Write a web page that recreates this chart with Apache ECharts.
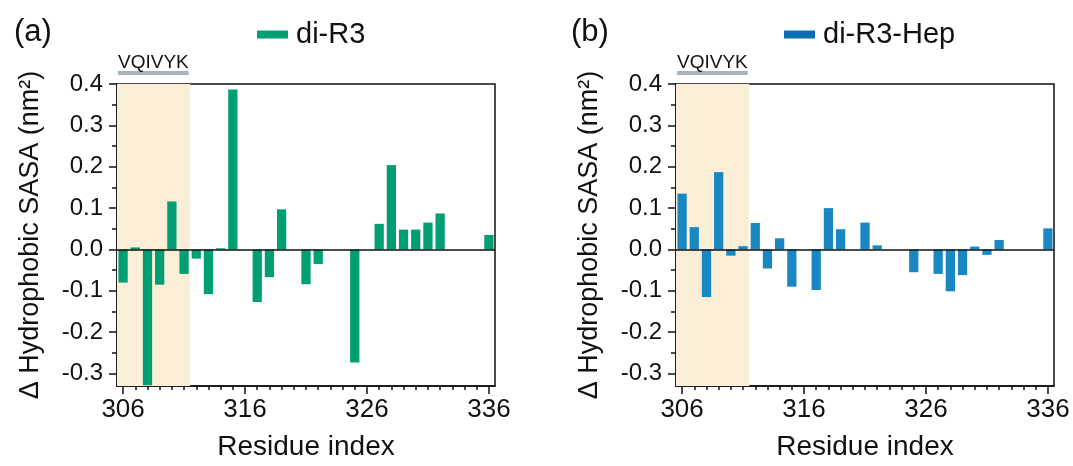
<!DOCTYPE html>
<html>
<head>
<meta charset="utf-8">
<script src="https://cdn.jsdelivr.net/npm/echarts@6/dist/echarts.min.js"></script>
<style>
  html, body { margin: 0; padding: 0; background: #ffffff; }
  #chart { width: 1073px; height: 466px; }
</style>
</head>
<body>
<div id="chart"></div>
<script>
// Residue positions along the repeat (x categories)
const residues = [306, 307, 308, 309, 310, 311, 312, 313, 314, 315,
                  316, 317, 318, 319, 320, 321, 322, 323, 324, 325,
                  326, 327, 328, 329, 330, 331, 332, 333, 334, 335, 336];

// Change in hydrophobic SASA (nm^2) per residue; null = no bar
const diR3 = [-0.080, 0.005, -0.328, -0.085, 0.116, -0.059, -0.022, -0.108, 0.003, 0.387,
              null, -0.127, -0.067, 0.097, null, -0.084, -0.035, null, null, -0.273,
              null, 0.062, 0.204, 0.048, 0.048, 0.065, 0.087, null, null, null, 0.035];

const diR3Hep = [0.135, 0.054, -0.115, 0.187, -0.015, 0.008, 0.064, -0.046, 0.027, -0.090,
                 null, -0.098, 0.100, 0.049, null, 0.065, 0.010, null, null, -0.055,
                 null, -0.059, -0.101, -0.062, 0.007, -0.013, 0.023, null, null, null, 0.051];

// Axis ticks
const yTicks = [-0.3, -0.2, -0.1, 0.0, 0.1, 0.2, 0.3, 0.4];
const yMinorTicks = [-0.25, -0.15, -0.05, 0.05, 0.15, 0.25, 0.35];
const xTicks = [306, 316, 326, 336];
const xMinorTicks = residues.filter(r => !xTicks.includes(r));
const yRange = [-0.33, 0.4];

// Hexapeptide motif highlighted in both panels
const motifName = 'VQIVYK';
const motifResidues = [306, 311];

const FONT = '"Liberation Sans", Arial, sans-serif';
const INK = '#111111';

const panels = [
  { tag: '(a)', name: 'di-R3',     values: diR3,    color: '#009E73', legendColor: '#009E73', left: 117, legendLeft: 252, tagLeft: 9 },
  { tag: '(b)', name: 'di-R3-Hep', values: diR3Hep, color: '#1B87C2', legendColor: '#0B6FB3', left: 676, legendLeft: 779, tagLeft: 566 }
];

const GRID_TOP = 84, GRID_W = 378, GRID_H = 303;
const xMin = residues[0] - 0.5, xMax = residues[residues.length - 1] + 0.5;

const chart = echarts.init(document.getElementById('chart'), null, { renderer: 'canvas' });

const option = {
  animation: false,
  backgroundColor: '#ffffff',
  textStyle: { fontFamily: FONT, color: INK },
  title: panels.map(p => ({
    text: p.tag, left: p.tagLeft, top: 12,
    textStyle: { fontFamily: FONT, fontSize: 31, fontWeight: 'normal', color: INK }
  })),
  legend: panels.map(p => ({
    data: [{ name: p.name, itemStyle: { color: p.legendColor } }],
    left: p.legendLeft, top: 15,
    icon: 'rect', itemWidth: 31, itemHeight: 8,
    textStyle: { fontFamily: FONT, fontSize: 29, color: INK, padding: [0, 0, 0, 3] },
    selectedMode: false
  })),
  grid: panels.map(p => ({
    left: p.left, top: GRID_TOP, width: GRID_W, height: GRID_H,
    show: true, borderColor: INK, borderWidth: 1.5, backgroundColor: 'transparent'
  })),
  xAxis: [],
  yAxis: [],
  series: []
};

panels.forEach((p, i) => {
  // main x axis: labelled major ticks every 10 residues
  option.xAxis.push({
    type: 'value', gridIndex: i, min: xMin, max: xMax, position: 'bottom',
    name: 'Residue index', nameLocation: 'middle', nameGap: 47,
    nameTextStyle: { fontFamily: FONT, fontSize: 28, color: INK },
    axisLine: { show: true, onZero: false, lineStyle: { color: INK, width: 1.5 } },
    axisTick: { show: true, length: 8, customValues: xTicks, lineStyle: { color: INK, width: 1.5 } },
    axisLabel: { show: true, customValues: xTicks, fontFamily: FONT, fontSize: 26, color: INK, margin: 11 },
    splitLine: { show: false }
  });
  // minor x ticks every residue
  option.xAxis.push({
    type: 'value', gridIndex: i, min: xMin, max: xMax, position: 'bottom',
    axisLine: { show: false, onZero: false },
    axisTick: { show: true, length: 4, customValues: xMinorTicks, lineStyle: { color: INK, width: 1.5 } },
    axisLabel: { show: false },
    splitLine: { show: false }
  });
  // main y axis
  option.yAxis.push({
    type: 'value', gridIndex: i, min: yRange[0], max: yRange[1], position: 'left',
    name: 'Δ Hydrophobic SASA (nm²)', nameLocation: 'middle', nameGap: 73,
    nameTextStyle: { fontFamily: FONT, fontSize: 27, color: INK },
    axisLine: { show: true, onZero: false, lineStyle: { color: INK, width: 1.5 } },
    axisTick: { show: true, length: 8, customValues: yTicks, lineStyle: { color: INK, width: 1.5 } },
    axisLabel: {
      show: true, customValues: yTicks, fontFamily: FONT, fontSize: 24, color: INK, margin: 14,
      formatter: v => Number(v).toFixed(1)
    },
    splitLine: { show: false }
  });
  // minor y ticks
  option.yAxis.push({
    type: 'value', gridIndex: i, min: yRange[0], max: yRange[1], position: 'left',
    axisLine: { show: false, onZero: false },
    axisTick: { show: true, length: 5, customValues: yMinorTicks, lineStyle: { color: INK, width: 1.5 } },
    axisLabel: { show: false },
    splitLine: { show: false }
  });

  const data = [];
  residues.forEach((r, k) => { if (p.values[k] !== null) data.push([r, p.values[k]]); });

  option.series.push({
    type: 'bar', name: p.name, xAxisIndex: 2 * i, yAxisIndex: 2 * i,
    data: data, barWidth: '76%',
    itemStyle: { color: p.color },
    markArea: {
      silent: true,
      itemStyle: { color: '#FAEFD6' },
      data: [[{ xAxis: motifResidues[0] - 0.5 }, { xAxis: motifResidues[1] + 0.5 }]]
    },
    markLine: {
      silent: true, symbol: 'none', animation: false,
      label: { show: false },
      lineStyle: { color: INK, width: 1.5, type: 'solid' },
      data: [{ yAxis: 0 }]
    }
  });
});

chart.setOption(option);

// Motif label and bracket above the highlighted residues
const graphics = [];
panels.forEach((p, i) => {
  const x0 = chart.convertToPixel({ xAxisIndex: 2 * i }, motifResidues[0] - 0.5);
  const x1 = chart.convertToPixel({ xAxisIndex: 2 * i }, motifResidues[1] + 0.3);
  const top = chart.convertToPixel({ yAxisIndex: 2 * i }, yRange[1]);
  graphics.push({
    type: 'rect', silent: true,
    shape: { x: x0 + 1, y: top - 13, width: x1 - x0, height: 4 },
    style: { fill: '#A6B2BC' }
  });
  graphics.push({
    type: 'text', silent: true, x: (x0 + x1) / 2 + 1, y: top - 21,
    style: {
      text: motifName, fill: INK, fontFamily: FONT, fontSize: 19,
      align: 'center', verticalAlign: 'middle', textAlign: 'center', textVerticalAlign: 'middle'
    }
  });
});
chart.setOption({ graphic: graphics });
</script>
</body>
</html>
